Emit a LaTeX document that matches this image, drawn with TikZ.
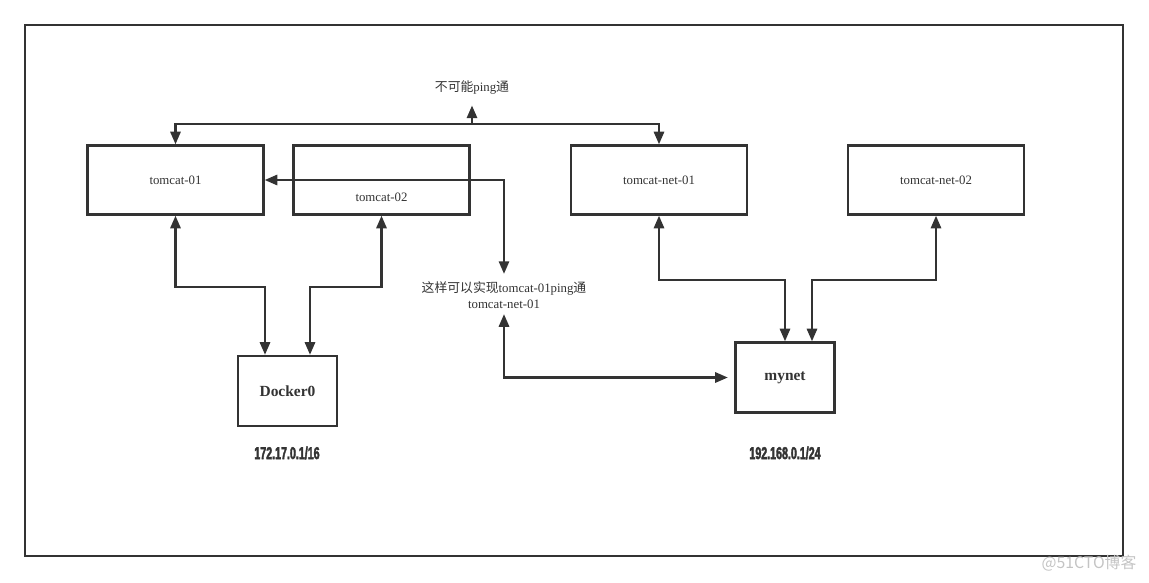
\documentclass[tikz,border=0pt]{standalone}
\usepackage{fontspec}
\setmainfont{Liberation Serif}
\newfontfamily\cjk{Noto Sans CJK SC}
\newfontfamily\ipfont[FakeStretch=0.62,FakeBold=2.2]{Liberation Sans Bold}
\usepackage{tikz}
\usetikzlibrary{
  arrows.meta,
  calc,
  positioning
}
\definecolor{ink}{HTML}{333333}
\definecolor{mark}{HTML}{C4C4C4}
\tikzset{>={Triangle[length=7.2pt,width=5.8pt]}}

\begin{document}
\begin{tikzpicture}[x=0.02cm,y=-0.02cm,
    line width=1.35pt, draw=ink, text=ink,
    box/.style={draw, rectangle, inner sep=0pt, minimum width=3.52cm, minimum height=1.38cm,
      font=\fontsize{7.3}{9}\selectfont},
    netbox/.style={draw, rectangle, inner sep=0pt, minimum width=1.98cm, minimum height=1.4cm,
      font=\fontsize{8.8}{11}\selectfont\bfseries},
    note/.style={align=center, inner sep=2pt, font=\fontsize{7.3}{9}\selectfont},
    iplabel/.style={font=\fontsize{9.8}{11}\selectfont\ipfont},
    link/.style={<->}
  ]
  \useasboundingbox (0,0) rectangle (1149,582);
  \draw (25,25) rectangle (1123,556);

  % containers
  \node[box] (t1) at (175.5,180) {tomcat-01};
  \node[box, label={[font=\fontsize{7.3}{9}\selectfont, text=ink, yshift=-0.34cm]center:tomcat-02}] (t2) at (381.5,180) {};
  \node[box] (tn1) at (659,180) {tomcat-net-01};
  \node[box] (tn2) at (936,180) {tomcat-net-02};

  % networks
  \node[netbox] (dk) at (287.5,391) {Docker0};
  \node[netbox] (mn) at (785,377.5) {mynet};
  \node[iplabel] (dkip) at (287,453) {172.17.0.1/16};
  \node[iplabel] (mnip) at (785,453) {192.168.0.1/24};

  % notes
  \node[note] (nping) at (472,87) {{\cjk 不可能}ping{\cjk 通}};
  \node[note] (nconn) at (504,295) {{\cjk 这样可以实现}tomcat-01ping{\cjk 通}\\tomcat-net-01};
  \node[text=mark, font=\fontsize{9}{10}\selectfont\cjk] (wm) at (1089,563) {@51CTO博客};

  \coordinate (ptop) at (472,124);
  \draw[link] (t1.north) |- (ptop) -| (tn1.north);
  \draw[->] (ptop) -- ([yshift=-0.14cm]nping.south);

  \draw[link] (t1.east) -| ([yshift=0.06cm]nconn.north);
  \draw[link] ([yshift=-0.02cm]nconn.south) |- ([xshift=-0.13cm]mn.west);

  \draw[link] (t1.south) -- ++(0,71) -| ([xshift=-0.45cm]dk.north);
  \draw[link] (t2.south) -- ++(0,71) -| ([xshift=0.45cm]dk.north);
  \draw[link] (tn1.south) -- ++(0,64) -| (mn.north);
  \draw[link] (tn2.south) -- ++(0,64) -| ([xshift=0.54cm]mn.north);
\end{tikzpicture}
\end{document}
